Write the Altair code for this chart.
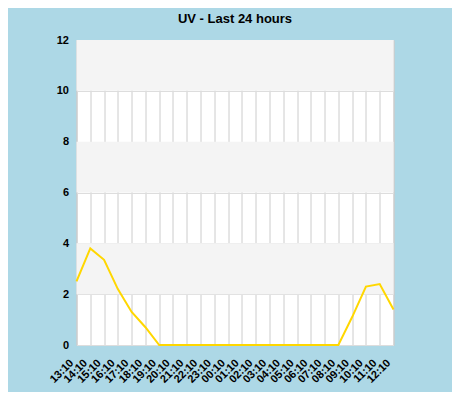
import altair as alt
import pandas as pd

times = ["13:10", "14:10", "15:10", "16:10", "17:10", "18:10", "19:10", "20:10",
         "21:10", "22:10", "23:10", "00:10", "01:10", "02:10", "03:10", "04:10",
         "05:10", "06:10", "07:10", "08:10", "09:10", "10:10", "11:10", "12:10"]
uv = [2.5, 3.8, 3.35, 2.2, 1.3, 0.7, 0.0, 0.0,
      0.0, 0.0, 0.0, 0.0, 0.0, 0.0, 0.0, 0.0,
      0.0, 0.0, 0.0, 0.0, 1.1, 2.3, 2.4, 1.4]
band_lo = [2, 6, 10]
band_hi = [4, 8, 12]

df = pd.DataFrame({"time": times, "uv": uv})
bands = pd.DataFrame({"lo": band_lo, "hi": band_hi})

FONT = "Liberation Sans"

xenc = alt.X("time:N", sort=times, title=None,
             scale=alt.Scale(type="point", padding=0),
             axis=alt.Axis(labelAngle=-45, labelAlign="right", labelBaseline="middle",
                           labelFontWeight="bold", labelFontSize=11, labelFont=FONT,
                           labelColor="#000", grid=True, gridColor="#cccccc",
                           ticks=False, domain=False, labelPadding=16, labelOffset=-5,
                           labelOverlap=False))
yscale = alt.Scale(domain=[0, 12], nice=False)

band_layer = alt.Chart(bands).mark_rect(color="#f4f4f4").encode(
    y=alt.Y("lo:Q", scale=yscale, title=None,
            axis=alt.Axis(values=[0, 2, 4, 6, 8, 10, 12], labelFontWeight="bold",
                          labelFontSize=11, labelFont=FONT, labelColor="#000",
                          grid=True, gridColor="#dddddd", ticks=False, domain=False,
                          labelPadding=8)),
    y2="hi:Q",
    x=alt.value(0), x2=alt.value(317),
)

line_layer = alt.Chart(df).mark_line(color="#ffd700", strokeWidth=2).encode(
    x=xenc,
    y=alt.Y("uv:Q", scale=yscale),
)

chart = alt.layer(band_layer, line_layer).properties(
    width=317, height=305,
    title=alt.TitleParams("UV - Last 24 hours", font=FONT, fontSize=13,
                          fontWeight="bold", color="#000", anchor="middle", offset=8),
    autosize=alt.AutoSizeParams(type="none"),
    padding={"left": 68.5, "top": 32, "right": 58.5, "bottom": 47},
    background="#add8e6",
).configure_view(fill="white", stroke="#cccccc", strokeWidth=1)

chart.save("out.html", embed_options={"renderer": "svg", "actions": False})
